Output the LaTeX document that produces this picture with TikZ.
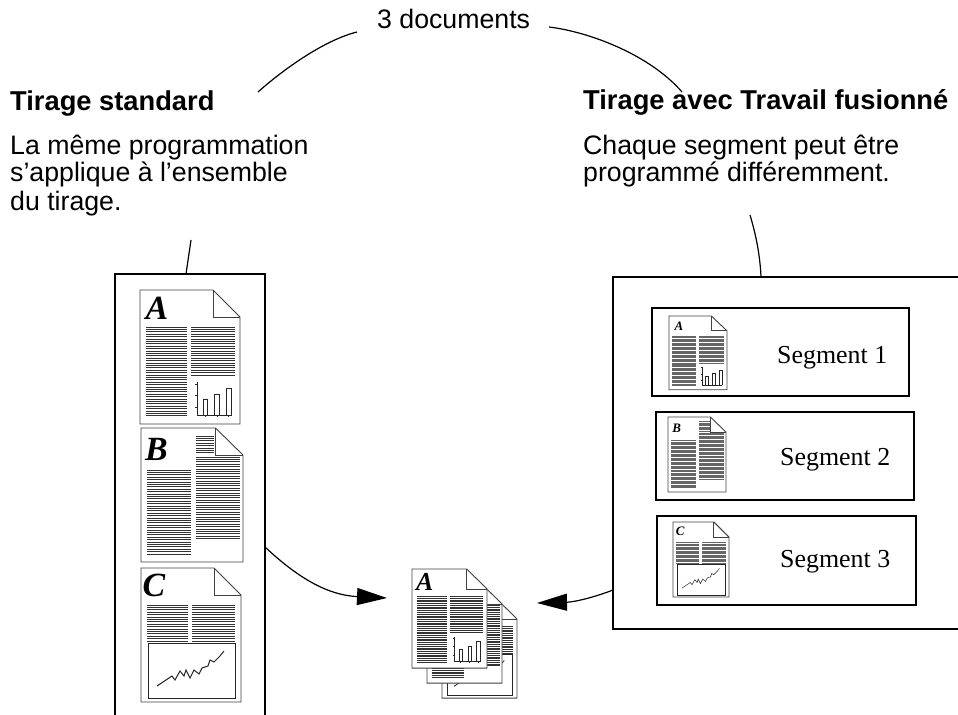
\documentclass[tikz,border=0pt]{standalone}
\usepackage{fontspec}
\setmainfont{Liberation Sans}
\newfontfamily\segfont{Liberation Serif}
\newfontfamily\initialfont{Liberation Serif}
\usetikzlibrary{arrows.meta}

% width and shade of the text stripes on a page icon, size of its initial
\newcommand\stripew{1bp}
\newcommand\stripeshade{80}
\newcommand\initialsize{34}
% hidden pages in a stack carry no visible initial
\newif\ifinitial
\initialtrue

\tikzset{
  txt/.style={anchor=base west, inner sep=0pt, font=\fontsize{26.8}{28}\selectfont},
  heading/.style={txt, font=\fontsize{27.4}{28}\selectfont\bfseries},
  segtext/.style={anchor=base west, inner sep=0pt, font=\fontsize{26}{28}\segfont},
  connector/.style={line width=1.2bp},
  pointer/.style={connector, -{Triangle[length=30bp,width=17bp]}},
  frame/.style={line width=2.4bp},
  segbox/.style={draw, line width=2.6bp, inner sep=0pt},
  page/.style={draw=black!75, fill=white, line width=0.9bp},
  pagefold/.style={draw=black!75, line width=0.9bp},
  stripe/.style={draw=black!\stripeshade, line width=\stripew},
  chartline/.style={draw=black!85, line width=\stripew},
  initial/.style={inner sep=0pt, font=\fontsize{\initialsize}{\initialsize}\initialfont\bfseries\itshape},
}

% horizontal text lines: x from #1 to #2, y from #3 to #4
\newcommand\stripes[4]{%
  \pgfmathsetmacro\stripenext{#3+2.4}%
  \foreach \yy in {#3,\stripenext,...,#4} {\draw[stripe] (#1,\yy) -- (#2,\yy);}%
}

% page outline with folded corner, 100 x 134 local units
\newcommand\pageshape{%
  \path[page] (0,0) -- (73,0) -- (100,27) -- (100,134) -- (0,134) -- cycle;
  \draw[pagefold] (73,0) -- (73,27) -- (100,27);
}

\newcommand\docA{%
  \pageshape
  \ifinitial\node[initial] (initA) at (17,18) {A};\fi
  \stripes{6}{47}{37}{128}
  \stripes{51}{95}{37}{87}
  \draw[chartline] (57,92) -- (57,125) -- (92,125);
  \foreach \ty in {94,105,117} {\draw[chartline] (55,\ty) -- (57,\ty);}
  \foreach \tx in {65,77,88.5} {\draw[chartline] (\tx,125) -- (\tx,127);}
  \draw[chartline] (63,125) |- (67,109) -- (67,125);
  \draw[chartline] (74.5,125) |- (79,104) -- (79,125);
  \draw[chartline] (86,125) |- (91,98) -- (91,125);
}

\newcommand\docB{%
  \pageshape
  \ifinitial\node[initial] (initB) at (15,21) {B};\fi
  \stripes{6}{49}{42}{128}
  \stripes{54}{72}{8}{27}
  \stripes{54}{97}{29}{112}
}

\newcommand\docC{%
  \pageshape
  \ifinitial\node[initial] (initC) at (13,17) {C};\fi
  \stripes{6}{47}{37}{73}
  \stripes{51}{94}{37}{73}
  \draw[chartline] (7,75) rectangle (94,130);
  \draw[chartline] (16,118) -- (31,108) -- (34,112) -- (39,103) -- (43,108)
    -- (45,102) -- (49,110) -- (53,102) -- (58,106) -- (61,100) -- (67,98)
    -- (69,92) -- (73,94) -- (79,88) -- (83,83);
}

\begin{document}
\begin{tikzpicture}[x=1bp,y=-1bp]
  \useasboundingbox (0,0) rectangle (958,715);
  \clip (0,0) rectangle (958,715);

  % outer frames
  \draw[frame] (115,720) -- (115,274) -- (265,274) -- (265,720);
  \draw[frame] (965,277) -- (613,277) -- (613,629) -- (965,629);

  % segment boxes
  \node[segbox, minimum width=257bp, minimum height=88bp] (seg1) at (780.5,352) {};
  \node[segbox, minimum width=258bp, minimum height=88bp] (seg2) at (785,456) {};
  \node[segbox, minimum width=259bp, minimum height=89bp] (seg3) at (786.5,560.5) {};

  % standard run: three full-size documents
  \begin{scope}[shift={(140,290)}] \docA \end{scope}
  \begin{scope}[shift={(141,428)}, xscale=1.02] \docB \end{scope}
  \begin{scope}[shift={(141,568)}] \docC \end{scope}

  % output stack
  \begin{scope}[shift={(442,599)}, xscale=.75, yscale=.74]
    \renewcommand\stripew{0.75bp}\initialfalse\docC
  \end{scope}
  \begin{scope}[shift={(427,584)}, xscale=.75, yscale=.74]
    \renewcommand\stripew{0.75bp}\initialfalse\docB
  \end{scope}
  \begin{scope}[shift={(412,569)}, xscale=.75, yscale=.74]
    \renewcommand\stripew{0.75bp}\renewcommand\initialsize{26}\docA
  \end{scope}

  % merged job segments
  \begin{scope}[shift={(669,316)}, xscale=.58, yscale=.55]
    \renewcommand\stripew{0.5bp}\renewcommand\stripeshade{60}\renewcommand\initialsize{13}\docA
  \end{scope}
  \begin{scope}[shift={(668,417)}, xscale=.58, yscale=.56]
    \renewcommand\stripew{0.5bp}\renewcommand\stripeshade{60}\renewcommand\initialsize{13}\docB
  \end{scope}
  \begin{scope}[shift={(673,522)}, xscale=.56, yscale=.56]
    \renewcommand\stripew{0.5bp}\renewcommand\stripeshade{60}\renewcommand\initialsize{13}\docC
  \end{scope}

  \node[segtext] (seg1t) at (777,363) {Segment 1};
  \node[segtext] (seg2t) at (780,465) {Segment 2};
  \node[segtext] (seg3t) at (780,567) {Segment 3};

  % captions
  \node[txt] (count) at (377,29) {3 documents};
  \node[heading] (stdhead) at (10,111) {Tirage standard};
  \node[txt] (std1) at (10,155) {La même programmation};
  \node[txt] (std2) at (10,182) {s’applique à l’ensemble};
  \node[txt] (std3) at (10,210) {du tirage.};
  \node[heading] (mrghead) at (583,110) {Tirage avec Travail fusionné};
  \node[txt] (mrg1) at (583,155) {Chaque segment peut être};
  \node[txt] (mrg2) at (583,182) {programmé différemment.};

  % connector end points
  \coordinate (countL) at (357,32);
  \coordinate (stdTop) at (258,92);
  \coordinate (countR) at (549,27);
  \coordinate (mrgTop) at (682,92);
  \coordinate (stdLow) at (191,240);
  \coordinate (stdBox) at (186,274);
  \coordinate (mrgLow) at (750,215);
  \coordinate (mrgBox) at (761,277);
  \coordinate (stdOut) at (265,547);
  \coordinate (stackL) at (387,598);
  \coordinate (mrgOut) at (613,590);
  \coordinate (stackR) at (537,603);

  \draw[connector] (countL) .. controls (325,40) and (285,68) .. (stdTop);
  \draw[connector] (countR) .. controls (590,32) and (650,55) .. (mrgTop);
  \draw[connector] (stdLow) -- (stdBox);
  \draw[connector] (mrgLow) .. controls (756,235) and (760,255) .. (mrgBox);
  \draw[pointer] (stdOut) .. controls (295,575) and (325,595) .. (stackL);
  \draw[pointer] (mrgOut) .. controls (595,597) and (575,602) .. (stackR);
\end{tikzpicture}
\end{document}
